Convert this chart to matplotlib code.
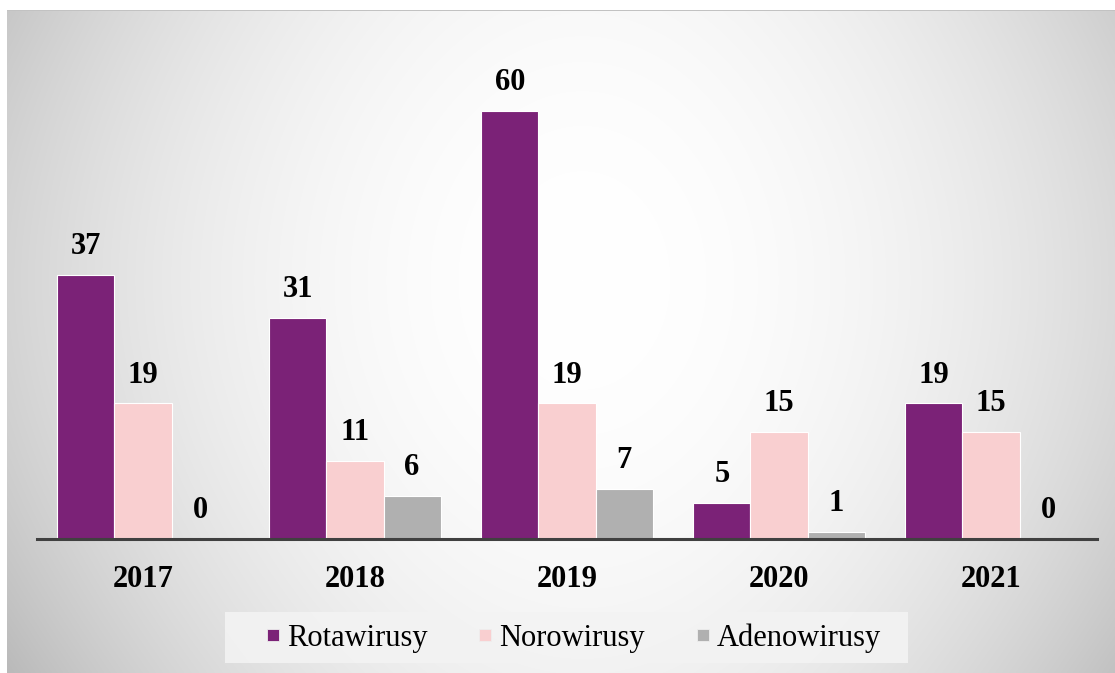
import numpy as np
import matplotlib.pyplot as plt
from matplotlib.lines import Line2D
from matplotlib.patches import Rectangle

plt.rcParams['font.family'] = ['Liberation Serif', 'DejaVu Serif']

# Data
years = ['2017', '2018', '2019', '2020', '2021']
series_names = ['Rotawirusy', 'Norowirusy', 'Adenowirusy']
rota = [37, 31, 60, 5, 19]
noro = [19, 11, 19, 15, 15]
adeno = [0, 6, 7, 1, 0]
colors = ['#7b2277', '#f9cfd0', '#b0b0b0']

W, H = 1115, 673
fig = plt.figure(figsize=(W / 100, H / 100), dpi=100)

# grey gradient background, light in the middle
bg = fig.add_axes([7 / W, 0, 1 - 7 / W, 1 - 10 / H])
yy, xx = np.mgrid[0:663, 0:1108]
dx = (xx - 575) / 560
dy = (yy - 270) / 390
v = 1 - 0.16 * dx ** 2 - 0.05 * dy ** 2 - 0.05 * (dx * dy) ** 2
v = np.clip(v, 0.72, 1.0)
bg.imshow(np.dstack([v, v, v]), aspect='auto', interpolation='bilinear')
bg.set_axis_off()
fig.add_artist(Rectangle((7 / W, 1 - 11 / H), 1 - 7 / W, 1 / H, transform=fig.transFigure,
                         facecolor='#c2c2c2', edgecolor='none'))

# legend background box
fig.add_artist(Rectangle((225 / W, 1 - 663 / H), 683 / W, 51 / H, transform=fig.transFigure,
                         facecolor='#f3f3f3', edgecolor='none', alpha=0.9))

# Main axes
ax = fig.add_axes([37 / W, (H - 539) / H, 1060 / W, 463.6 / H])
ax.patch.set_alpha(0)
x = np.arange(len(years))
bw = 0.269
for i, (vals, name) in enumerate(zip([rota, noro, adeno], series_names)):
    pos = x + (i - 1) * bw
    ax.bar(pos, vals, bw, color=colors[i], edgecolor='white', linewidth=0.8, label=name)
    for px, val in zip(pos, vals):
        ax.annotate(str(val), (px, val), xytext=(0, 10), textcoords='offset points',
                    ha='center', va='bottom', fontsize=22, fontweight='bold')

ax.set_xlim(-0.5, 4.5)
ax.set_ylim(0, 65)
ax.set_xticks(x)
ax.set_xticklabels(years, fontsize=22, fontweight='bold')
ax.tick_params(axis='x', length=0, pad=19)
ax.set_yticks([])
for s in ['top', 'right', 'left']:
    ax.spines[s].set_visible(False)
ax.spines['bottom'].set_color('#404040')
ax.spines['bottom'].set_linewidth(2.2)

# Legend
handles = [Line2D([], [], linestyle='none', marker='s', markersize=8.6,
                  markerfacecolor=c, markeredgecolor='#eeeeee', markeredgewidth=0.6)
           for c in colors]
fig.legend(handles, series_names, loc='center', bbox_to_anchor=(574 / W, 1 - 638 / H),
           ncol=3, fontsize=22, frameon=False, handlelength=0.4, handletextpad=0.26,
           columnspacing=1.7, borderaxespad=0)

fig.savefig('out.png', dpi=100)
